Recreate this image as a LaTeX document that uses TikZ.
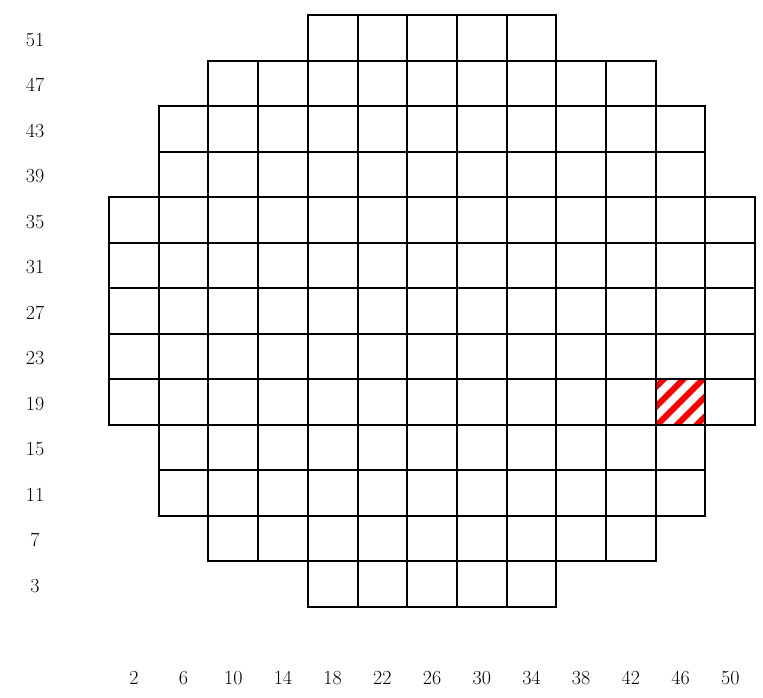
\documentclass[tikz,border=0pt]{standalone}
\usetikzlibrary{calc}
\begin{document}
\begin{tikzpicture}[x=1pt,y=-1pt,
  cell/.style={shape=rectangle,draw=black,line width=2pt,minimum width=49.7pt,minimum height=45.5pt,inner sep=0pt,outer sep=0pt},
  stripe/.style={draw=red,line width=6pt},
  lbl/.style={font=\fontsize{20}{20}\selectfont,inner sep=0pt}]
\useasboundingbox (0,0) rectangle (763,697);
\foreach \j/\a/\b in {0/4/8,1/2/10,2/1/11,3/1/11,4/0/12,5/0/12,6/0/12,7/0/12,8/0/12,9/1/11,10/1/11,11/2/10,12/4/8}{
  \pgfmathtruncatemacro\r{51-4*\j}
  \foreach \i in {\a,...,\b}{
    \pgfmathtruncatemacro\c{2+4*\i}
    \node[cell] (c-\c-\r) at ({109+49.7*(\i+0.5)},{15+45.5*(\j+0.5)}) {};
  }
  \node[lbl] (row-\r) at (35,{17+45.5*(\j+0.5)}) {\r};
}
\foreach \i in {0,...,12}{
  \pgfmathtruncatemacro\c{2+4*\i}
  \node[lbl] (col-\c) at ({109+49.7*(\i+0.5)},678) {\c};
}
\begin{scope}
  \clip (c-46-19.south west) rectangle (c-46-19.north east);
  \foreach \k in {-3,...,3}{
    \draw[stripe] ($(c-46-19.south west)+({2+19.7*\k-10},10)$) -- ++(75,-75);
  }
\end{scope}
\node[cell] (hot) at (c-46-19) {};
\end{tikzpicture}
\end{document}
